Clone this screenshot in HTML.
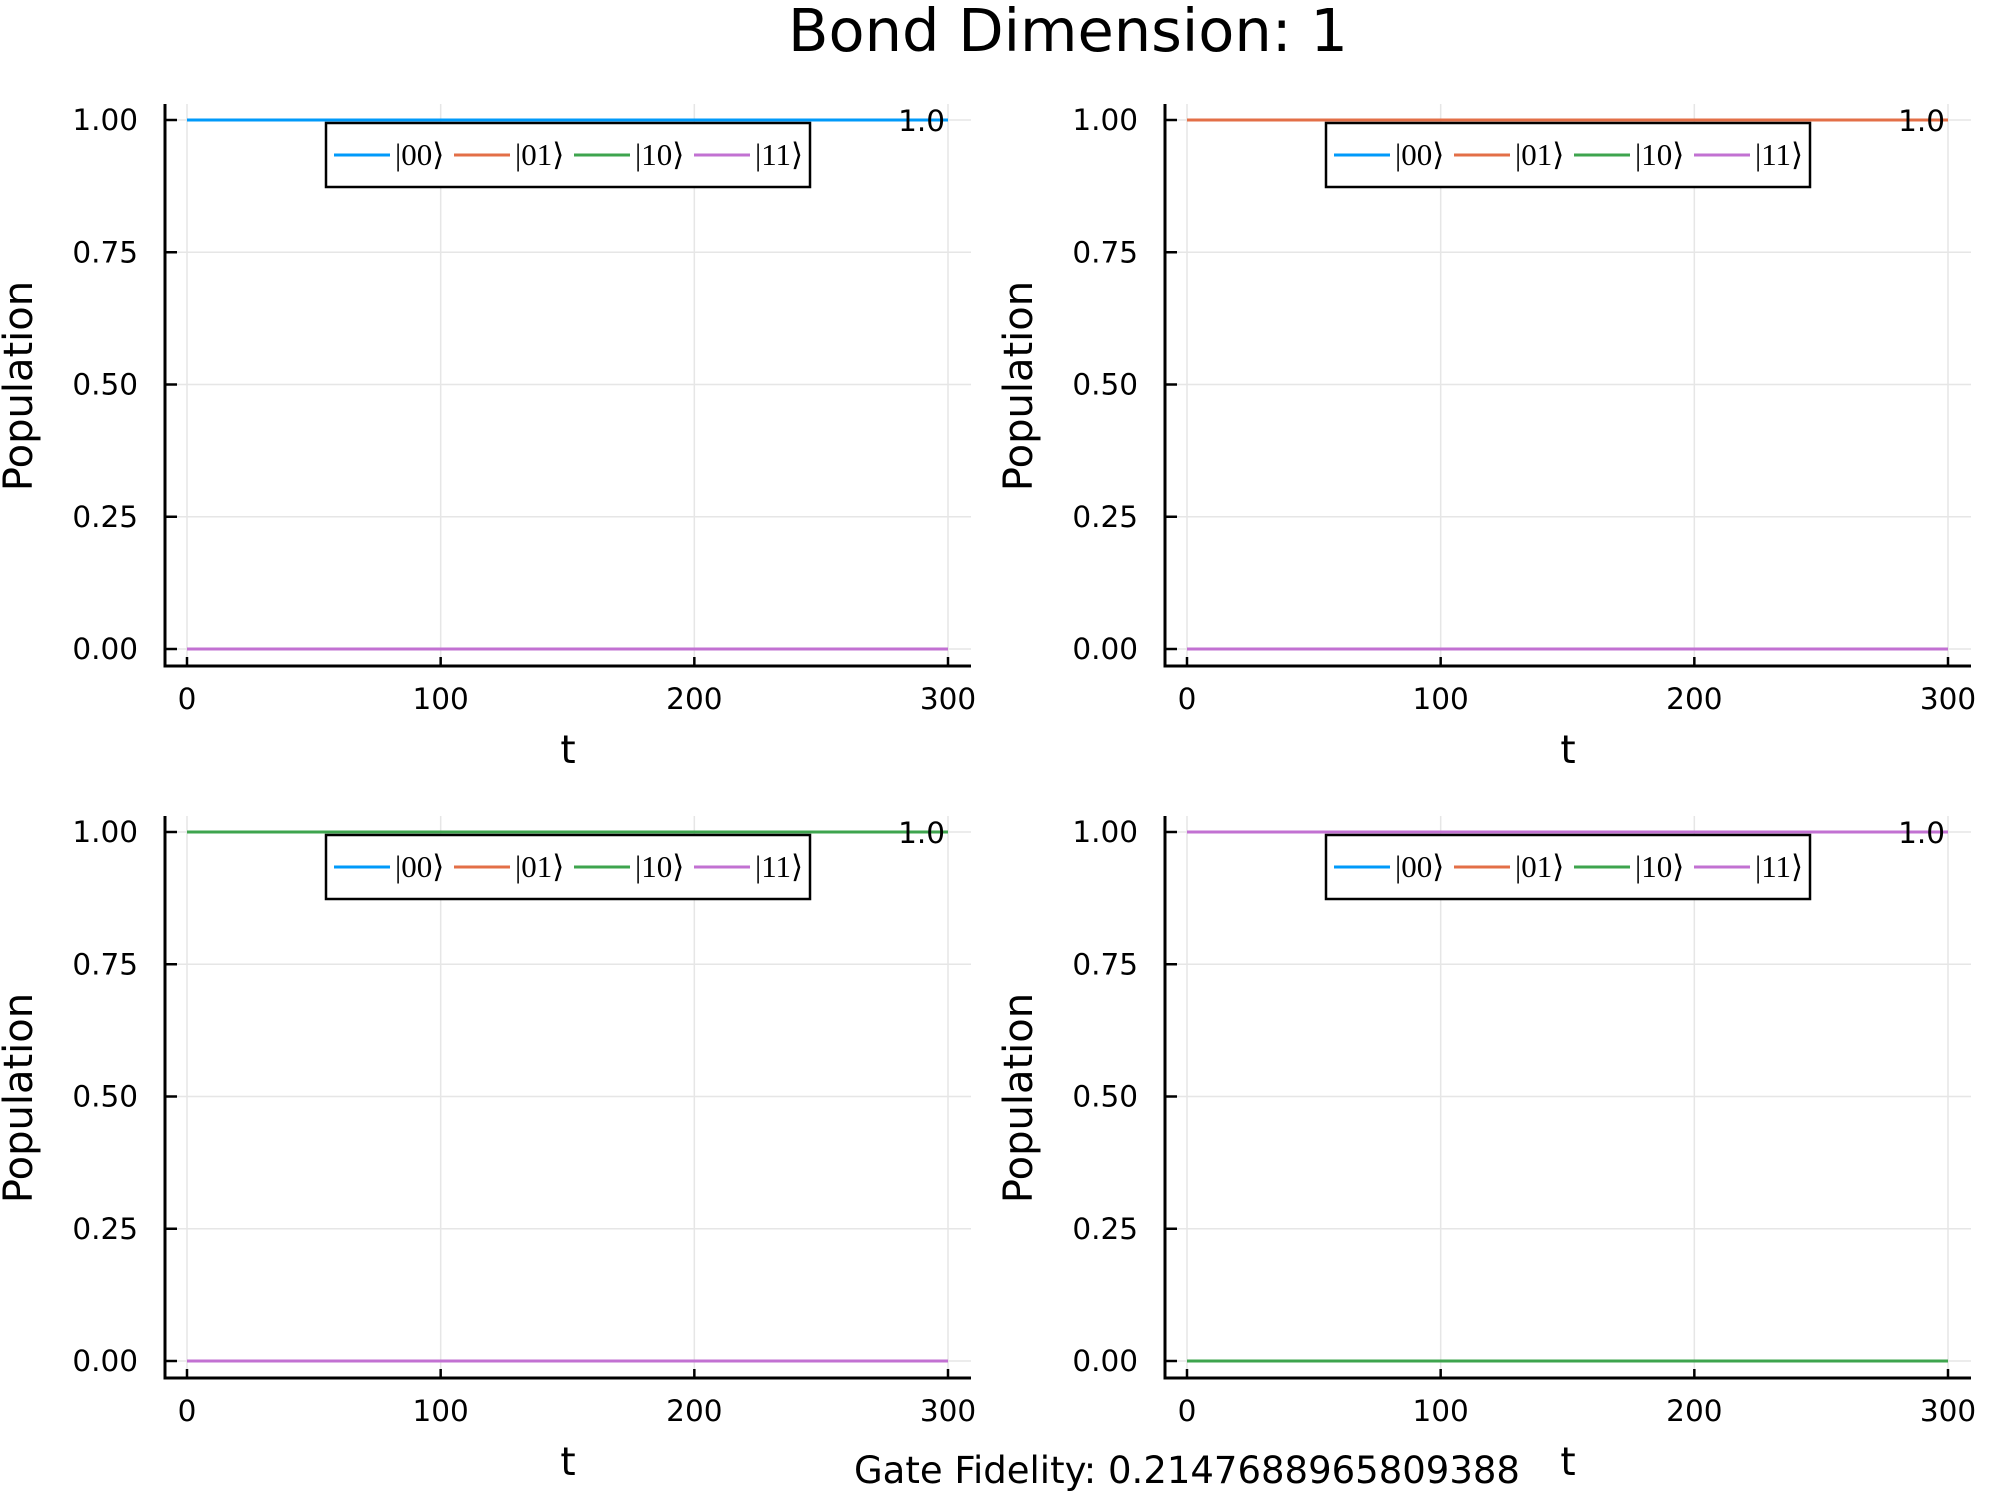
<!DOCTYPE html>
<html><head><meta charset="utf-8">
<style>
html,body{margin:0;padding:0;background:#fff;}
svg{display:block;}
text{font-family:"DejaVu Sans","Liberation Sans",sans-serif;}
.serif{font-family:"Liberation Serif","DejaVu Serif",serif;}
</style></head>
<body>
<svg id="chart" width="2000" height="1500" viewBox="0 0 2000 1500" xmlns="http://www.w3.org/2000/svg">
<rect width="2000" height="1500" fill="#fff"/>
<text x="1068" y="51" font-size="59" text-anchor="middle">Bond Dimension: 1</text>
<text x="1187" y="1483" font-size="37" text-anchor="middle">Gate Fidelity: 0.2147688965809388</text>
</svg>
<script>
const seriesNames = ["|00⟩","|01⟩","|10⟩","|11⟩"];
const seriesColors = ["#009AFA","#E36F47","#3EA44E","#C271D2"];
const times = [0,50,100,150,200,250,300];
// populations per panel, per series
const panel1 = [[1,1,1,1,1,1,1],[0,0,0,0,0,0,0],[0,0,0,0,0,0,0],[0,0,0,0,0,0,0]];
const panel2 = [[0,0,0,0,0,0,0],[1,1,1,1,1,1,1],[0,0,0,0,0,0,0],[0,0,0,0,0,0,0]];
const panel3 = [[0,0,0,0,0,0,0],[0,0,0,0,0,0,0],[1,1,1,1,1,1,1],[0,0,0,0,0,0,0]];
const panel4 = [[0,0,0,0,0,0,0],[0,0,0,0,0,0,0],[0,0,0,0,0,0,0],[1,1,1,1,1,1,1]];
const xTicks = [0,100,200,300];
const yTicks = [0,0.25,0.5,0.75,1.0];
const yTickLabels = ["0.00","0.25","0.50","0.75","1.00"];
const annotationText = ["1.0","1.0","1.0","1.0"];

const NS="http://www.w3.org/2000/svg";
const svg=document.getElementById('chart');
function mk(tag,attrs,parent){const e=document.createElementNS(NS,tag);for(const k in attrs)e.setAttribute(k,attrs[k]);(parent||svg).appendChild(e);return e;}

const panels=[panel1,panel2,panel3,panel4];
panels.forEach((data,pi)=>{
  const ox=(pi%2)*1000, oy=Math.floor(pi/2)*712;
  const g=mk('g',{});
  
  
  const x0=187+ox, x1=948+ox, y0=649+oy, y1=120+oy;
  const sx=v=>x0+(v-0)/(300-0)*(x1-x0);
  const sy=v=>y0+(v-0)/(1-0)*(y1-y0);
  const left=165+ox,right=971+ox,bottom=666+oy,top=104+oy;
  xTicks.forEach(t=>{const l=mk('line',{x1:sx(t),x2:sx(t),y1:top,y2:bottom,stroke:'#e6e6e6','stroke-width':1.5},g);
    
    });
  yTicks.forEach(t=>{const l=mk('line',{x1:left,x2:right,y1:sy(t),y2:sy(t),stroke:'#e6e6e6','stroke-width':1.5},g);
    
    });
  const ax=mk('path',{d:`M${left},${top}V${bottom}H${right}`,fill:'none',stroke:'#000','stroke-width':3},g);
  
  
  xTicks.forEach(t=>{mk('line',{x1:sx(t),x2:sx(t),y1:bottom,y2:bottom-9,stroke:'#000','stroke-width':2.5},g);
    const tx=mk('text',{x:sx(t),y:bottom+43,'font-size':29.5,'text-anchor':'middle'},g);tx.textContent=t;
    
    });
  yTicks.forEach((t,i)=>{mk('line',{x1:left,x2:left+12,y1:sy(t),y2:sy(t),stroke:'#000','stroke-width':2.5},g);
    const tx=mk('text',{x:left-27,y:sy(t)+10,'font-size':29.5,'text-anchor':'end'},g);tx.textContent=yTickLabels[i];
    
    });
  const yl=mk('text',{x:0,y:0,'font-size':40,'text-anchor':'middle',transform:`translate(${32+ox},${386+oy}) rotate(-90)`},g);
  yl.textContent='Population';
  
  
  const xl=mk('text',{x:(left+right)/2,y:763+oy,'font-size':39,'text-anchor':'middle'},g);
  xl.textContent='t';
  
  
  data.forEach((vals,si)=>{
    const d=vals.map((v,i)=>(i?'L':'M')+sx(times[i])+','+sy(v)).join('');
    const p=mk('path',{d:d,fill:'none',stroke:seriesColors[si],'stroke-width':3},g);
    
    
  });
  const an=mk('text',{x:x1-3,y:sy(1)+11,'font-size':29.5,'text-anchor':'end'},g);
  an.textContent=annotationText[pi];
  
  
  const lg=mk('g',{},g);
  
  
  mk('rect',{x:326+ox,y:123+oy,width:484,height:64,fill:'#fff',stroke:'#000','stroke-width':2.5},lg);
  seriesNames.forEach((n,si)=>{
    const bx=334+ox+si*120, cy=155+oy;
    const e=mk('g',{},lg);
    
    
    mk('line',{x1:bx,x2:bx+56,y1:cy,y2:cy,stroke:seriesColors[si],'stroke-width':3},e);
    const t=mk('text',{x:bx+61,y:cy+10,'font-size':31,class:'serif'},e);t.textContent=n;
  });
});
</script>
</body></html>
